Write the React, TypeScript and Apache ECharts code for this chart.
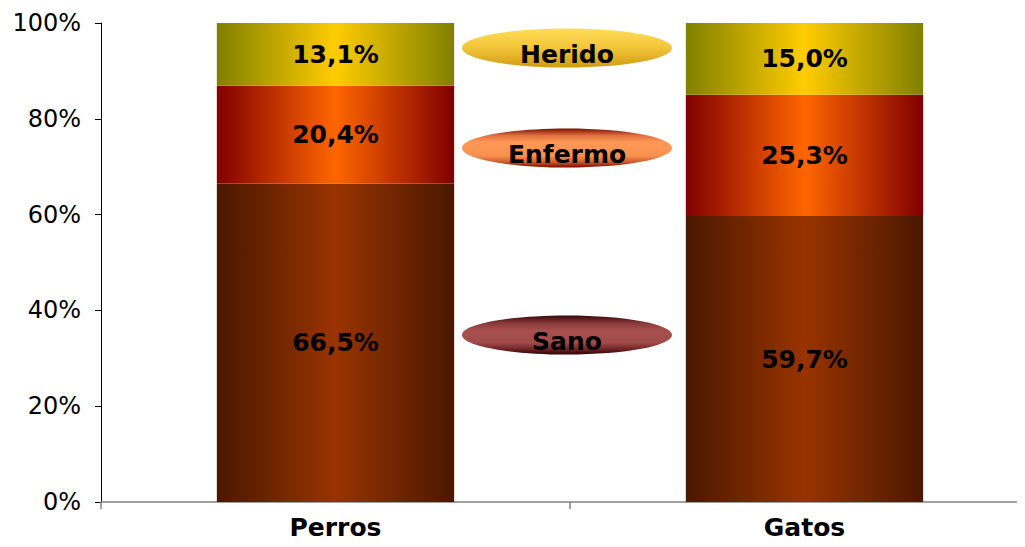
import React, { useEffect, useRef } from "react";
import * as echarts from "echarts";

const categories = ["Perros", "Gatos"];
const seriesNames = ["Sano", "Enfermo", "Herido"];
const sano = [66.5, 59.7];
const enfermo = [20.4, 25.3];
const herido = [13.1, 15.0];
const yTicks = [0, 20, 40, 60, 80, 100];

const FONT = "DejaVu Sans";

function hGrad(edge: string, center: string) {
  return new echarts.graphic.LinearGradient(0, 0, 1, 0, [
    { offset: 0, color: edge },
    { offset: 0.5, color: center },
    { offset: 1, color: edge },
  ]);
}

function vGrad(stops: [number, string][]) {
  return new echarts.graphic.LinearGradient(
    0,
    0,
    0,
    1,
    stops.map(([offset, color]) => ({ offset, color }))
  );
}

export default function App() {
  const ref = useRef<HTMLDivElement>(null);
  useEffect(() => {
    if (!ref.current) return;
    const chart = echarts.init(ref.current, undefined, { renderer: "svg" });
    const label = {
      show: true,
      position: "inside",
      fontFamily: FONT,
      fontWeight: "bold",
      fontSize: 25,
      color: "#000",
      formatter: (p: any) => p.value.toFixed(1).replace(".", ",") + "%",
    };
    const data = [sano, enfermo, herido];
    const grads = [
      ["#4a1800", "#993300"],
      ["#800000", "#ff6600"],
      ["#808000", "#ffcc00"],
    ];
    const legendItems = [
      {
        name: seriesNames[2],
        cy: 48,
        fill: vGrad([
          [0, "#ffdc55"],
          [0.5, "#f2c53a"],
          [1, "#d09a10"],
        ]),
      },
      {
        name: seriesNames[1],
        cy: 148,
        fill: vGrad([
          [0, "#7a1000"],
          [0.18, "#e07040"],
          [0.35, "#ff9955"],
          [0.7, "#fa9050"],
          [0.85, "#d06030"],
          [1, "#7a0a00"],
        ]),
      },
      {
        name: seriesNames[0],
        cy: 335,
        fill: vGrad([
          [0, "#3a0808"],
          [0.2, "#8a3a3a"],
          [0.4, "#a85050"],
          [0.7, "#a04a4a"],
          [0.88, "#6a2020"],
          [1, "#2a0505"],
        ]),
      },
    ];
    const graphic: any[] = [];
    legendItems.forEach((it) => {
      graphic.push({
        type: "ellipse",
        shape: { cx: 567, cy: it.cy, rx: 105, ry: 19.5 },
        style: { fill: it.fill },
        z: 10,
      });
      graphic.push({
        type: "text",
        x: 567,
        y: it.cy + 6,
        style: {
          text: it.name,
          fontFamily: FONT,
          fontWeight: "bold",
          fontSize: 25,
          fill: "#000",
          align: "center",
          verticalAlign: "middle",
        },
        z: 11,
      });
    });
    chart.setOption({
      animation: false,
      grid: {
        left: 101,
        width: 938,
        top: 23,
        bottom: 45,
        containLabel: false,
        outerBoundsMode: "none",
      },
      xAxis: {
        type: "category",
        data: categories,
        axisLine: { lineStyle: { color: "#808080", width: 1.5 } },
        axisTick: { show: true, length: 7, lineStyle: { color: "#808080", width: 1.5 } },
        axisLabel: {
          fontFamily: FONT,
          fontWeight: "bold",
          fontSize: 25,
          color: "#000",
          margin: 13,
        },
      },
      yAxis: {
        type: "value",
        min: yTicks[0],
        max: yTicks[yTicks.length - 1],
        interval: 20,
        axisLine: { show: true, lineStyle: { color: "#000", width: 1 } },
        axisTick: { show: true, length: 6, lineStyle: { color: "#000" } },
        splitLine: { show: false },
        axisLabel: {
          fontFamily: FONT,
          fontSize: 24,
          color: "#000",
          margin: 20,
          formatter: "{value}%",
        },
      },
      series: seriesNames.map((name, i) => ({
        name,
        type: "bar",
        stack: "total",
        barWidth: "50.6%",
        data: data[i],
        itemStyle: {
          color: hGrad(grads[i][0], grads[i][1]),
        },
        label,
      })),
      graphic,
    });
    return () => chart.dispose();
  }, []);
  return <div ref={ref} style={{ width: 1025, height: 547, margin: -8 }} />;
}
